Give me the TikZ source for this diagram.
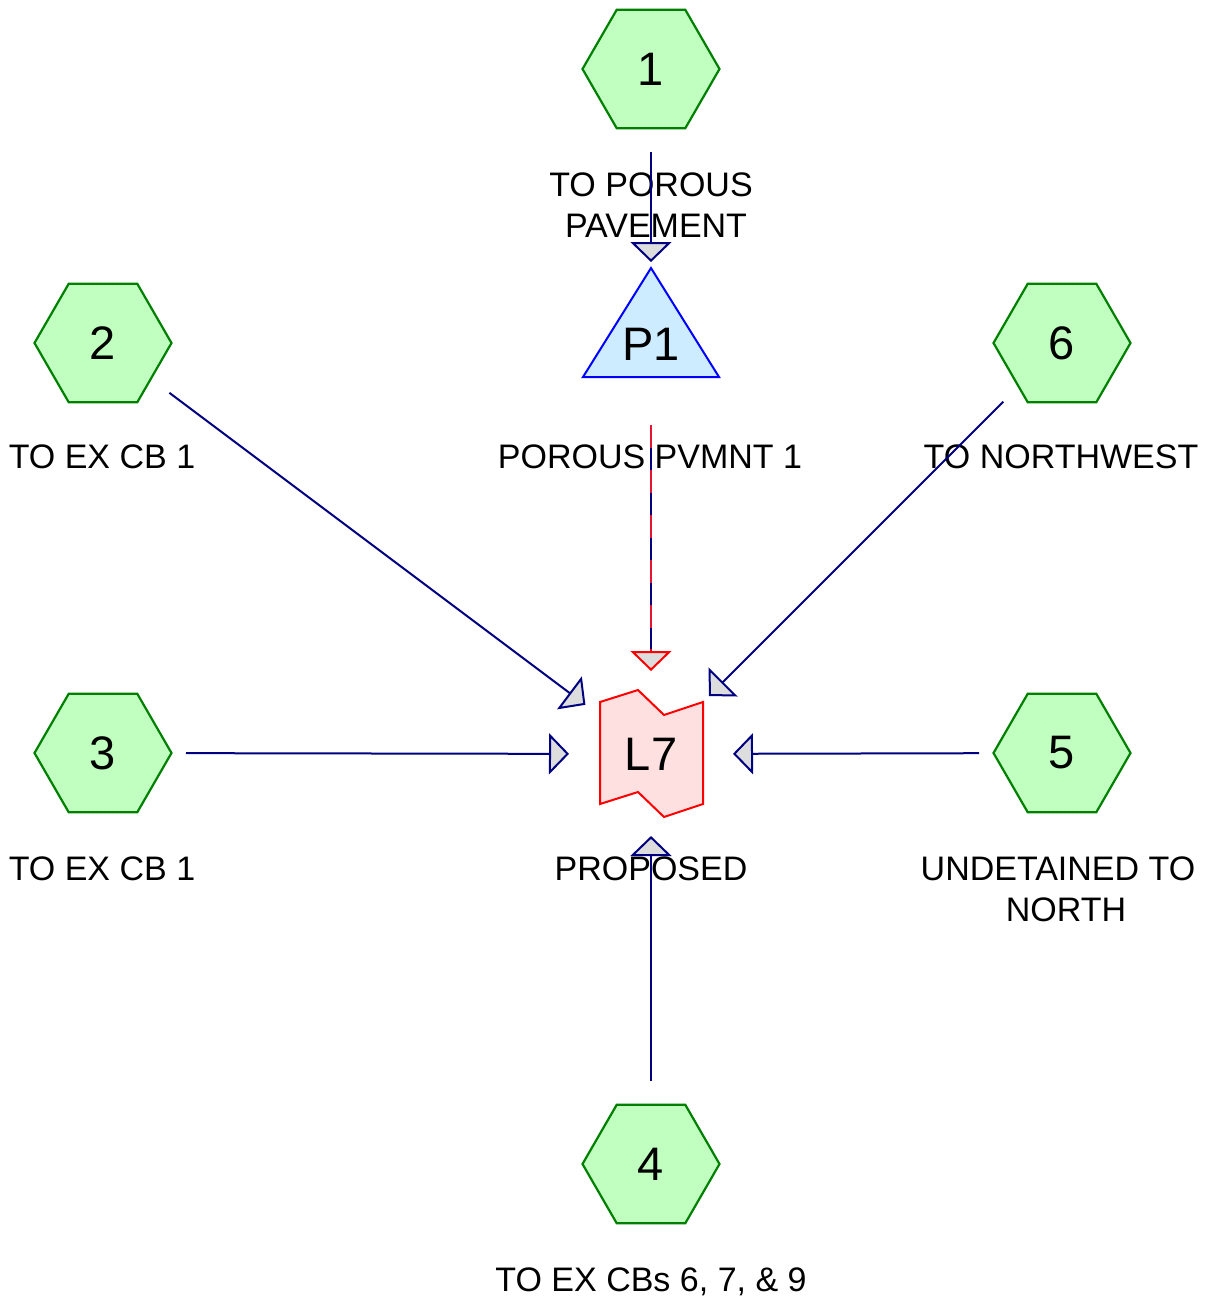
\documentclass[tikz,border=0pt]{standalone}
\usepackage{fontspec}
\setmainfont{Liberation Sans}
\usetikzlibrary{arrows.meta,shapes.geometric}

\definecolor{hexfill}{RGB}{192,255,192}
\definecolor{hexdraw}{RGB}{0,128,0}
\definecolor{pondfill}{RGB}{206,236,255}
\definecolor{ponddraw}{RGB}{0,0,255}
\definecolor{linkfill}{RGB}{255,224,224}
\definecolor{linkdraw}{RGB}{255,0,0}
\definecolor{dashred}{RGB}{230,20,50}
\definecolor{navyline}{RGB}{0,0,128}
\definecolor{tipfill}{RGB}{221,221,221}

\begin{document}
\begin{tikzpicture}[x=1pt,y=-1pt,
  hexnode/.style={regular polygon, regular polygon sides=6, minimum size=137pt,
    inner sep=0pt, draw=hexdraw, fill=hexfill, line width=2.2pt,
    font=\fontsize{47}{50}\selectfont},
  bigtext/.style={inner sep=0pt, font=\fontsize{47}{50}\selectfont},
  lbl/.style={anchor=base, inner sep=0pt, font=\fontsize{34}{40}\selectfont},
  tiptri/.style={-{Triangle[length=20pt,width=41pt,fill=tipfill,line join=miter]}},
  conn/.style={draw=navyline, line width=2pt, shorten <=83pt, shorten >=82pt, tiptri},
  pondshape/.style={draw=ponddraw, fill=pondfill, line width=2pt, line join=miter},
  linkshape/.style={draw=linkdraw, fill=linkfill, line width=2pt, line join=miter},
]
\useasboundingbox (0,0) rectangle (1215,1301);

% subcatchments
\node[hexnode] (h1) at (651,69)   {1};
\node[hexnode] (h2) at (103,343)  {2};
\node[hexnode] (h3) at (103,753)  {3};
\node[hexnode] (h4) at (651,1164) {4};
\node[hexnode] (h5) at (1062,753) {5};
\node[hexnode] (h6) at (1062,343) {6};

% pond P1
\draw[pondshape] (651,268) -- (719,377) -- (583,377) -- cycle;
\node[bigtext] (p1) at (651,344) {P1};

% link L7
\draw[linkshape] (600,702) -- (638,690) -- (664,715) -- (703,702) -- (703,804)
  -- (664,817) -- (638,792) -- (600,804) -- cycle;
\node[bigtext] (l7) at (651,754) {L7};

% labels
\node[lbl] (t1a) at (651,196) {TO POROUS};
\node[lbl] (t1b) at (656,237) {PAVEMENT};
\node[lbl] (t2)  at (102,468) {TO EX CB 1};
\node[lbl] (tp1) at (650,468) {POROUS PVMNT 1};
\node[lbl] (t6)  at (1061,468) {TO NORTHWEST};
\node[lbl] (t3)  at (102,880) {TO EX CB 1};
\node[lbl] (tl7) at (651,880) {PROPOSED};
\node[lbl] (t5a) at (1058,880) {UNDETAINED TO};
\node[lbl] (t5b) at (1066,921) {NORTH};
\node[lbl] (t4)  at (651,1291) {TO EX CBs 6, 7, \& 9};

% connectors
\draw[conn] (h1.center) -- (p1.center);
\draw[conn] (h2.center) -- (l7.center);
\draw[conn] (h3.center) -- (l7.center);
\draw[conn] (h4.center) -- (l7.center);
\draw[conn] (h5.center) -- (l7.center);
\draw[conn] (h6.center) -- (l7.center);
% outflow from P1: navy line with red dashes on top, red-edged tip
\draw[draw=navyline, line width=2pt, shorten <=81pt, shorten >=103pt] (p1.center) -- (l7.center);
\draw[draw=dashred, line width=2.4pt, dash pattern=on 23pt off 22pt,
  shorten <=81pt, shorten >=103pt] (p1.center) -- (l7.center);
\draw[draw=linkdraw, line width=2pt, shorten <=305pt, shorten >=83pt, tiptri]
  (p1.center) -- (l7.center);
\end{tikzpicture}
\end{document}
